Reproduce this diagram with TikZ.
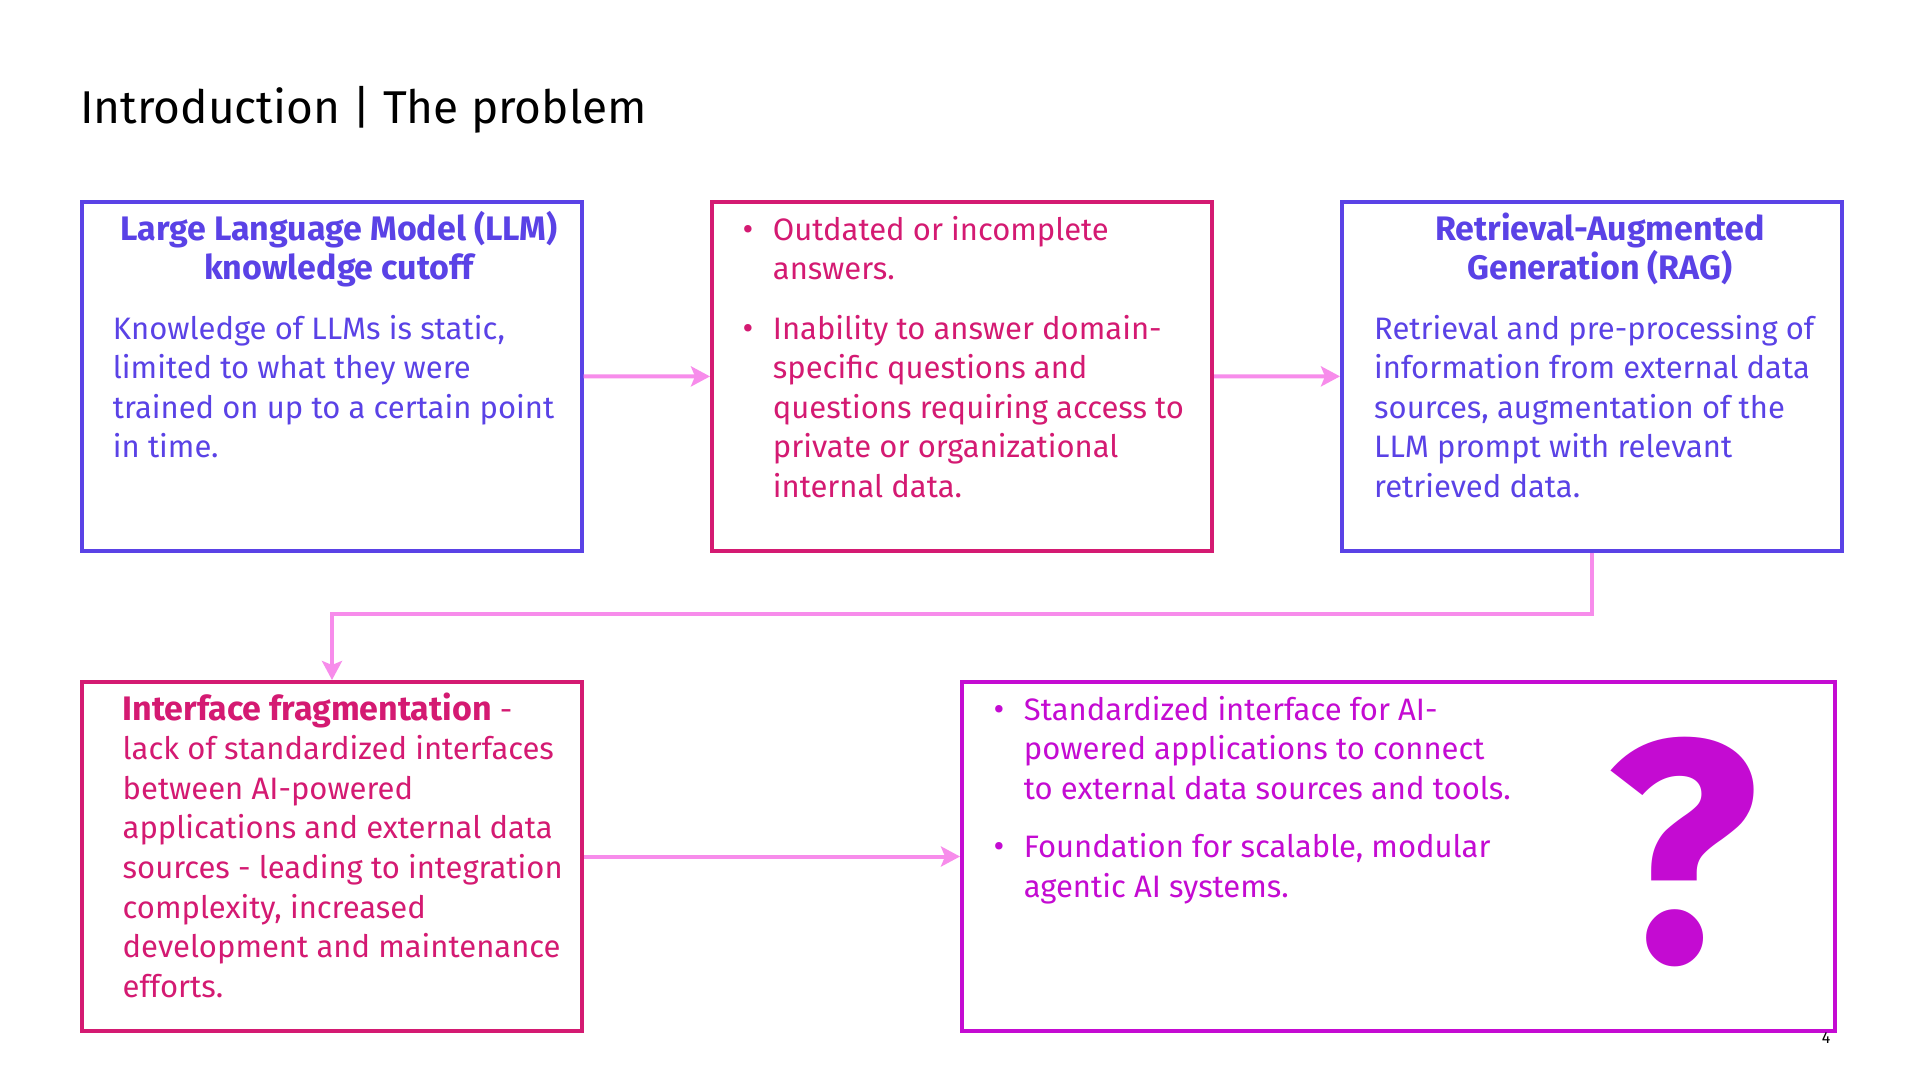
\documentclass[tikz,border=0pt]{standalone}
\usepackage{fontspec}
\setmainfont{Fira Sans}
\usetikzlibrary{arrows.meta,calc}
\definecolor{cblue}{HTML}{5A42E6}
\definecolor{ccrim}{HTML}{D41A72}
\definecolor{cmag}{HTML}{C40BD2}
\definecolor{cpink}{HTML}{F78CEB}
\newcommand{\hb}[1]{{\fontsize{34}{39.6}\selectfont\bfseries #1}}
\tikzset{
  box/.style={draw, line width=3.5pt, inner sep=0pt, anchor=north west, minimum height=349pt},
  txt/.style={inner sep=0pt, align=left, font=\fontsize{31}{39.6}\selectfont},
  head/.style={inner sep=0pt, align=center, font=\fontsize{34}{39.6}\selectfont\bfseries},
  bul/.style={inner sep=0pt, anchor=base, font=\fontsize{33}{39.6}\selectfont},
  conn/.style={draw=cpink, line width=4pt, -{Stealth[length=19pt,width=20pt,inset=4pt]}}
}
\begin{document}
\begin{tikzpicture}[x=1pt,y=-1pt]
\useasboundingbox (0,0) rectangle (1920,1080);
\fill[white] (0,0) rectangle (1920,1080);
\node[anchor=base west, inner sep=0pt, font=\fontsize{46}{56}\selectfont] (title) at (80,123.7) {Introduction | The problem};

\node[box, draw=cblue, minimum width=500pt] (b1) at (80,200) {};
\node[box, draw=ccrim, minimum width=500pt, line width=4pt] (b2) at (710,200) {};
\node[box, draw=cblue, minimum width=500pt] (b3) at (1340,200) {};
\node[box, draw=ccrim, minimum width=500pt, line width=4pt] (b4) at (80,680) {};
\node[box, draw=cmag, minimum width=873pt, line width=4pt] (b5) at (960,680) {};

% box 1 (anchor base = baseline of the last line)
\node[head, text=cblue, anchor=base] (h1) at (339,279.6) {Large Language Model (LLM)\\knowledge cutoff};
\node[txt, text=cblue, anchor=base west] (t1) at (112.7,457.8) {Knowledge of LLMs is static,\\limited to what they were\\trained on up to a certain point\\in time.};

% box 2
\node[bul, text=ccrim] (d2a) at (748,240) {•};
\node[txt, text=ccrim, anchor=base west] (t2a) at (772.7,279.6) {Outdated or incomplete\\answers.};
\node[bul, text=ccrim] (d2b) at (748,339) {•};
\node[txt, text=ccrim, anchor=base west] (t2b) at (772.7,497.4) {Inability to answer domain-\\specific questions and\\questions requiring access to\\private or organizational\\internal data.};

% box 3
\node[head, text=cblue, anchor=base] (h3) at (1600,279.6) {Retrieval-Augmented\\Generation (RAG)};
\node[txt, text=cblue, anchor=base west] (t3) at (1374,497.4) {Retrieval and pre-processing of\\information from external data\\sources, augmentation of the\\LLM prompt with relevant\\retrieved data.};

% box 4
\node[txt, text=ccrim, anchor=base west] (t4) at (122.5,997.2) {\hb{Interface fragmentation} -\\lack of standardized interfaces\\between AI-powered\\applications and external data\\sources - leading to integration\\complexity, increased\\development and maintenance\\efforts.};

% box 5
\node[bul, text=cmag] (d5a) at (999,720) {•};
\node[txt, text=cmag, anchor=base west] (t5a) at (1023.7,799.2) {Standardized interface for AI-\\powered applications to connect\\to external data sources and tools.};
\node[bul, text=cmag] (d5b) at (999,857.4) {•};
\node[txt, text=cmag, anchor=base west] (t5b) at (1023.7,897) {Foundation for scalable, modular\\agentic AI systems.};
\node[inner sep=0pt, text=cmag, font=\fontsize{316}{316}\selectfont\bfseries] (q) at (1682,852) {?};

\node[inner sep=0pt, font=\fontsize{16}{16}\selectfont] (pg) at (1826,1038) {4};

% connectors
\draw[conn] (b1) -- (b2);
\draw[conn] (b2) -- (b3);
\coordinate (turn) at (0,613.5);
\draw[conn] (b3.south) |- (turn -| b4.north) -- (b4.north);
\draw[conn] (b4) -- (b5);
\end{tikzpicture}
\end{document}
